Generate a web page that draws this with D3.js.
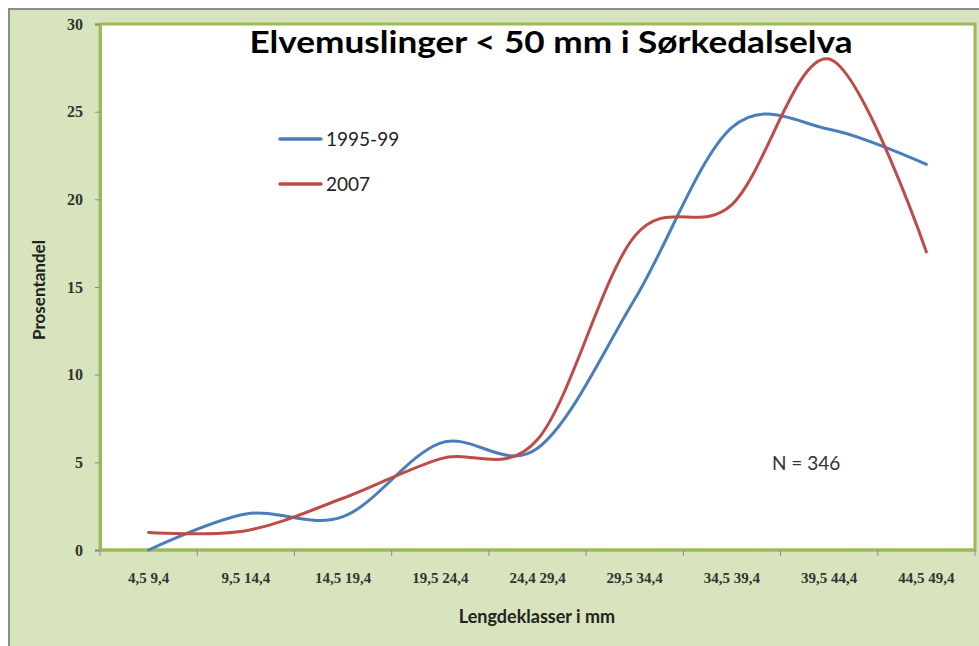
<!DOCTYPE html>
<html>
<head>
<meta charset="utf-8">
<script src="https://cdn.jsdelivr.net/npm/d3@7"></script>
<style>
  body { margin: 0; background: #ffffff; }
  svg { display: block; }
</style>
</head>
<body>
<div id="chart"></div>
<script>
// lengdeklasser (x-akse)
const categories = [
  "4,5 9,4", "9,5 14,4", "14,5 19,4", "19,5 24,4", "24,4 29,4",
  "29,5 34,4", "34,5 39,4", "39,5 44,4", "44,5 49,4"
];
// prosentandel per klasse, lest av figuren
const values1995 = [0, 2.05, 1.9, 6.1, 5.8, 14.3, 24.1, 24.0, 22.0];
const values2007 = [1.0, 1.1, 2.95, 5.2, 6.3, 17.9, 19.7, 28.0, 17.0];
const seriesNames = ["1995-99", "2007"];
const yTicks = [0, 5, 10, 15, 20, 25, 30];

const width = 979;
const height = 646;
const plot = { left: 100, right: 975, top: 24, bottom: 550 };

const svg = d3
  .select("#chart")
  .append("svg")
  .attr("width", width)
  .attr("height", height);

// bakgrunn
svg.append("rect")
  .attr("x", 9).attr("y", 9)
  .attr("width", width).attr("height", height)
  .attr("fill", "#d7e4bd")
  .attr("stroke", "#8c8c8c")
  .attr("stroke-width", 2);

svg.append("rect")
  .attr("x", plot.left).attr("y", plot.top)
  .attr("width", plot.right - plot.left)
  .attr("height", plot.bottom - plot.top)
  .attr("fill", "#ffffff")
  .attr("stroke", "#9bbb59")
  .attr("stroke-width", 3);

const x = d3
  .scaleBand()
  .domain(categories)
  .range([plot.left, plot.right])
  .paddingInner(0)
  .paddingOuter(0);

const y = d3
  .scaleLinear()
  .domain([0, 30])
  .range([plot.bottom, plot.top]);

// os y
const yAxis = svg.append("g")
  .attr("transform", `translate(${plot.left},0)`)
  .call(d3.axisLeft(y).tickValues(yTicks).tickSize(5).tickPadding(12));
yAxis.select(".domain").attr("stroke", "#9bbb59").attr("stroke-width", 3);
yAxis.selectAll(".tick line").attr("stroke", "#8c8c8c");
yAxis.selectAll("text")
  .attr("font-family", "Liberation Serif, serif")
  .attr("font-weight", "bold")
  .attr("font-size", 16)
  .attr("fill", "#333");

// os x, tick mellom klassene
const xAxis = svg.append("g")
  .attr("transform", `translate(0,${plot.bottom})`);
xAxis.append("line")
  .attr("x1", plot.left).attr("x2", plot.right)
  .attr("stroke", "#9bbb59").attr("stroke-width", 3);
xAxis.selectAll(".xtick")
  .data(categories.concat([null]))
  .enter()
  .append("line")
  .attr("x1", (d) => (d ? x(d) : plot.right))
  .attr("x2", (d) => (d ? x(d) : plot.right))
  .attr("y1", 0).attr("y2", 6)
  .attr("stroke", "#8c8c8c");
xAxis.selectAll(".xlabel")
  .data(categories)
  .enter()
  .append("text")
  .attr("x", (d) => x(d) + x.bandwidth() / 2)
  .attr("y", 33)
  .attr("text-anchor", "middle")
  .attr("font-family", "Liberation Serif, serif")
  .attr("font-weight", "bold")
  .attr("font-size", 15)
  .attr("fill", "#333")
  .text((d) => d);

// linjer (glattet som i Excel)
const line = d3
  .line()
  .x((d, i) => x(categories[i]) + x.bandwidth() / 2)
  .y((d) => y(d))
  .curve(d3.curveCardinal.tension(0));

const colors = ["#4a7ebb", "#be4b48"];
[values1995, values2007].forEach((vals, k) => {
  svg.append("path")
    .datum(vals)
    .attr("d", line)
    .attr("fill", "none")
    .attr("stroke", colors[k])
    .attr("stroke-width", 3)
    .attr("stroke-linecap", "round");
});

// tittel
svg.append("text")
  .attr("x", 551)
  .attr("y", 53)
  .attr("text-anchor", "middle")
  .attr("font-family", "Lato, sans-serif")
  .attr("font-weight", "bold")
  .attr("font-size", 30)
  .attr("textLength", 603)
  .attr("lengthAdjust", "spacingAndGlyphs")
  .attr("fill", "#000")
  .text("Elvemuslinger < 50 mm i Sørkedalselva");

// legend
seriesNames.forEach((name, k) => {
  const ly = 139 + k * 45;
  svg.append("line")
    .attr("x1", 280).attr("x2", 321)
    .attr("y1", ly).attr("y2", ly)
    .attr("stroke", colors[k])
    .attr("stroke-width", 3.5)
    .attr("stroke-linecap", "round");
  svg.append("text")
    .attr("x", 326)
    .attr("y", ly + 7)
    .attr("font-family", "Lato, sans-serif")
    .attr("font-size", 19)
    .attr("fill", "#222")
    .text(name);
});

svg.append("text")
  .attr("x", 772)
  .attr("y", 470)
  .attr("font-family", "Lato, sans-serif")
  .attr("font-size", 19)
  .attr("fill", "#333")
  .text("N = 346");

// aksetitler
svg.append("text")
  .attr("x", 537)
  .attr("y", 623)
  .attr("text-anchor", "middle")
  .attr("font-family", "Lato, sans-serif")
  .attr("font-weight", "bold")
  .attr("font-size", 18)
  .attr("fill", "#222")
  .text("Lengdeklasser i mm");

svg.append("text")
  .attr("transform", "rotate(-90)")
  .attr("x", -290)
  .attr("y", 45)
  .attr("text-anchor", "middle")
  .attr("font-family", "Lato, sans-serif")
  .attr("font-weight", "bold")
  .attr("font-size", 17)
  .attr("fill", "#222")
  .text("Prosentandel");
</script>
</body>
</html>
